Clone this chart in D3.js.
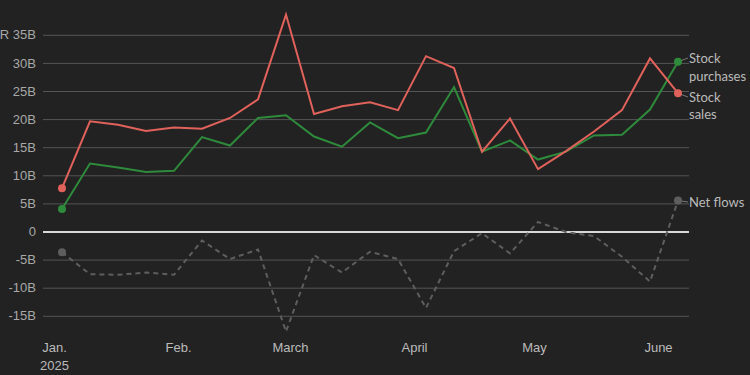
<!DOCTYPE html>
<html>
<head>
<meta charset="utf-8">
<script src="https://cdn.jsdelivr.net/npm/d3@7"></script>
<style>
  body { margin: 0; background: #222222; }
  svg { display: block; font-family: Lato, "Noto Sans", sans-serif; }
</style>
</head>
<body>
<div id="viz"></div>
<script>
// weekly data, Fridays Jan 3 - Jun 6 2025, in billions of rand
var weeks = ['2025-01-03','2025-01-10','2025-01-17','2025-01-24','2025-01-31',
  '2025-02-07','2025-02-14','2025-02-21','2025-02-28','2025-03-07','2025-03-14',
  '2025-03-21','2025-03-28','2025-04-04','2025-04-11','2025-04-18','2025-04-25',
  '2025-05-02','2025-05-09','2025-05-16','2025-05-23','2025-05-30','2025-06-06']

var sales = [7.7, 19.6, 19.0, 17.9, 18.5, 18.3, 20.2, 23.5, 38.6, 20.9, 22.3,
  23.0, 21.6, 31.2, 29.1, 14.2, 20.1, 11.1, 14.3, 17.8, 21.6, 30.8, 24.6]
var purchases = [4.0, 12.1, 11.4, 10.6, 10.8, 16.8, 15.3, 20.2, 20.7, 16.9, 15.1,
  19.4, 16.6, 17.6, 25.7, 14.2, 16.2, 12.8, 14.2, 17.1, 17.2, 21.7, 30.2]
var netFlows = [-3.7, -7.6, -7.7, -7.3, -7.7, -1.6, -4.9, -3.2, -17.8, -4.2, -7.3,
  -3.6, -4.9, -13.6, -3.5, -0.3, -3.9, 1.7, -0.1, -0.8, -4.5, -8.9, 5.5]

var yTicks = [-15, -10, -5, 0, 5, 10, 15, 20, 25, 30, 35]
var monthTicks = ['2025-01-01','2025-02-01','2025-03-01','2025-04-01','2025-05-01','2025-06-01']
var monthNames = ['Jan.', 'Feb.', 'March', 'April', 'May', 'June']

var width = 750, height = 375
var parse = d3.timeParse('%Y-%m-%d')
var dates = weeks.map(parse)

var x = d3.scaleTime()
  .domain([parse('2025-01-01'), parse('2025-06-01')])
  .range([54, 658])

var y = d3.scaleLinear()
  .domain([0, 35])
  .range([231.5, 34.8])

var svg = d3.select('#viz').append('svg')
  .attr('width', width)
  .attr('height', height)

svg.append('rect').attr('width', width).attr('height', height).attr('fill', '#222222')

// gridlines + y labels
var yAxis = d3.axisLeft(y)
  .tickValues(yTicks)
  .tickSize(-646)
  .tickFormat(function(d) {
    if (d == 0) return '0'
    return (d == 35 ? 'ZAR ' : '') + d + 'B'
  })

var yG = svg.append('g')
  .attr('transform', 'translate(43,0)')
  .call(yAxis)
yG.select('.domain').remove()
yG.selectAll('.tick line')
  .attr('stroke', function(d) { return d == 0 ? '#d8d8d8' : '#555555' })
  .attr('stroke-width', function(d) { return d == 0 ? 2 : 1 })
yG.selectAll('.tick text')
  .attr('x', -7)
  .attr('fill', '#a8a8a8')
  .style('font-size', '13px')

// x axis labels
var xAxis = d3.axisBottom(x)
  .tickValues(monthTicks.map(parse))
  .tickSize(0)
  .tickFormat(function(d, i) { return monthNames[i] })
var xG = svg.append('g')
  .attr('transform', 'translate(0,340)')
  .call(xAxis)
xG.select('.domain').remove()
xG.selectAll('.tick text')
  .attr('fill', '#bbbbbb')
  .attr('dy', '0.32em')
  .attr('y', 8)
  .style('font-size', '13px')
xG.select('.tick').append('text')
  .text('2025')
  .attr('fill', '#bbbbbb')
  .attr('y', 26)
  .attr('dy', '0.32em')
  .attr('text-anchor', 'middle')
  .style('font-size', '13px')

var series = [
  { name: ['Net flows'], values: netFlows, color: '#5e5e5e', dash: '5,4', labelY: [202] },
  { name: ['Stock', 'purchases'], values: purchases, color: '#2e8b3b', dash: null, labelY: [58, 76] },
  { name: ['Stock', 'sales'], values: sales, color: '#e0625b', dash: null, labelY: [97, 114] }
]

var line = d3.line()
  .x(function(d, i) { return x(dates[i]) })
  .y(function(d) { return y(d) })

series.forEach(function(s) {
  var last = s.values.length - 1
  var lx = x(dates[last]), ly = y(s.values[last])

  // connector to label
  svg.append('line')
    .attr('x1', lx).attr('y1', ly)
    .attr('x2', 688).attr('y2', s.labelY[0])
    .attr('stroke', '#777').attr('stroke-width', 1)

  svg.append('path')
    .datum(s.values)
    .attr('fill', 'none')
    .attr('stroke', s.color)
    .attr('stroke-width', 2)
    .attr('stroke-dasharray', s.dash)
    .attr('d', line)

  svg.selectAll(null)
    .data([0, last])
    .enter().append('circle')
    .attr('cx', function(i) { return x(dates[i]) })
    .attr('cy', function(i) { return y(s.values[i]) })
    .attr('r', 4)
    .attr('fill', s.color)

  s.name.forEach(function(t, k) {
    svg.append('text')
      .attr('x', 689)
      .attr('y', s.labelY[k])
      .attr('dy', '0.35em')
      .attr('fill', '#bbbbbb')
      .style('font-size', '13px')
      .text(t)
  })
})
</script>
</body>
</html>
